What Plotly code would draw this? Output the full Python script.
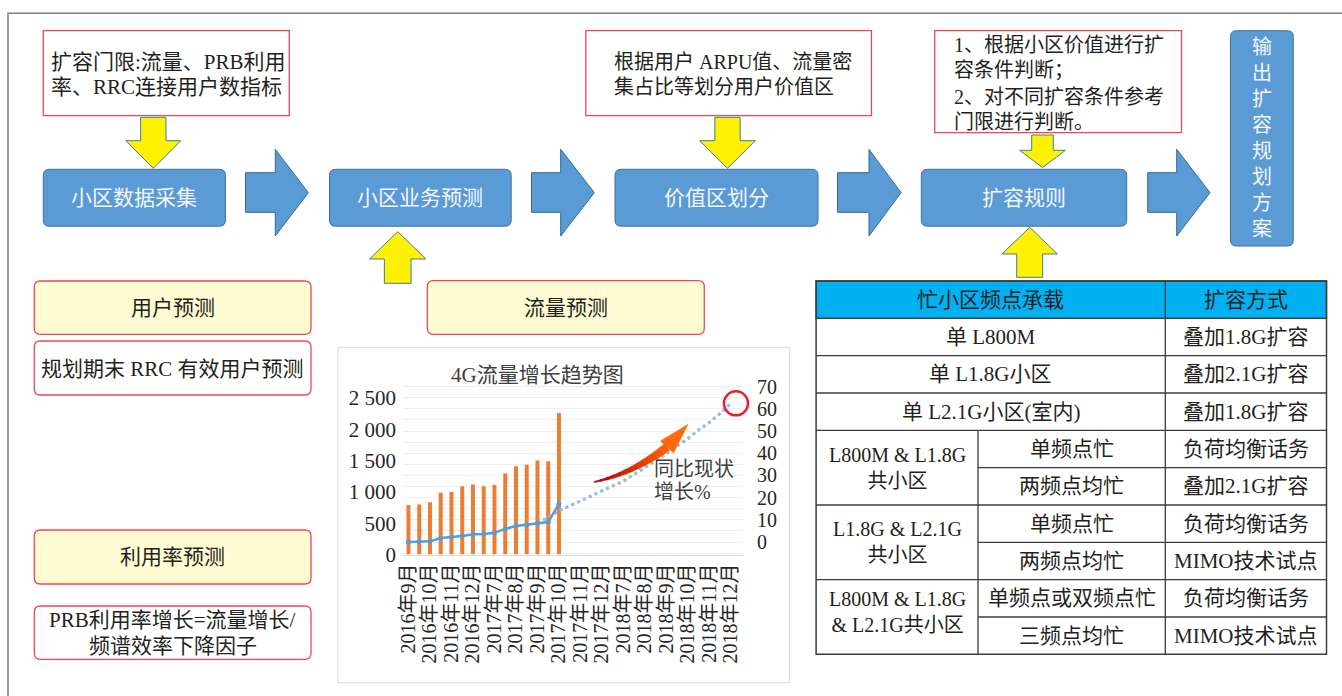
import plotly.graph_objects as go

W, H = 1342, 696
SERIF = "Liberation Serif, Noto Sans CJK SC, serif"
INK = "#231F20"

# ---- chart data: 4G traffic trend ----
tick_labels = ["2016年9月", "2016年10月", "2016年11月", "2016年12月",
               "2017年7月", "2017年8月", "2017年9月", "2017年10月",
               "2017年11月", "2017年12月", "2018年7月", "2018年8月",
               "2018年9月", "2018年10月", "2018年11月", "2018年12月"]
traffic = [790, 800, 835, 985, 1000, 1090, 1120, 1090, 1110,
           1295, 1410, 1435, 1500, 1490, 2260]
growth_actual = [0, 0.2, 0.3, 1.8, 2.1, 2.7, 3.5, 3.6, 4.2,
                 5.9, 7.2, 7.7, 8.4, 9.0, 17.2]
forecast_start = 12
growth_forecast = [8.4, 11.2, 14.0, 16.3, 18.6, 20.9, 23.1, 25.3, 27.4,
                   30.5, 33.4, 36.4, 39.8, 43.3, 46.6, 50.5, 53.9, 58.0, 62.5]
left_ticks = [0, 500, 1000, 1500, 2000, 2500]
left_tick_text = ["0", "500", "1 000", "1 500", "2 000", "2 500"]
right_ticks = [0, 10, 20, 30, 40, 50, 60, 70]

# ---- table content ----
table_header = ["忙小区频点承载", "扩容方式"]
single_rows = [("单 L800M", "叠加1.8G扩容"),
               ("单 L1.8G小区", "叠加2.1G扩容"),
               ("单 L2.1G小区(室内)", "叠加1.8G扩容")]
group_rows = [
    ("L800M & L1.8G<br>共小区", [("单频点忙", "负荷均衡话务"), ("两频点均忙", "叠加2.1G扩容")]),
    ("L1.8G & L2.1G<br>共小区", [("单频点忙", "负荷均衡话务"), ("两频点均忙", "MIMO技术试点")]),
    ("L800M & L1.8G<br>& L2.1G共小区", [("单频点或双频点忙", "负荷均衡话务"), ("三频点均忙", "MIMO技术试点")]),
]


def X(x):
    return x / W


def Y(y):
    return 1 - y / H


def P(x, y):
    return f"{X(x):.5f},{Y(y):.5f}"


def poly(points):
    return "M" + " L".join(P(x, y) for x, y in points) + " Z"


def rrect(x0, y0, x1, y1, r):
    return " ".join([
        f"M{P(x0 + r, y0)}", f"L{P(x1 - r, y0)}", f"Q{P(x1, y0)} {P(x1, y0 + r)}",
        f"L{P(x1, y1 - r)}", f"Q{P(x1, y1)} {P(x1 - r, y1)}",
        f"L{P(x0 + r, y1)}", f"Q{P(x0, y1)} {P(x0, y1 - r)}",
        f"L{P(x0, y0 + r)}", f"Q{P(x0, y0)} {P(x0 + r, y0)}", "Z"])


shapes = []
annotations = []


def add_path(path, fill, line_color, width=1.0, layer="above"):
    shapes.append(dict(type="path", xref="paper", yref="paper", path=path,
                       fillcolor=fill, line=dict(color=line_color, width=width),
                       layer=layer))


def add_rect(x0, y0, x1, y1, fill, line_color, width=1.0, layer="above"):
    shapes.append(dict(type="rect", xref="paper", yref="paper",
                       x0=X(x0), x1=X(x1), y0=Y(y1), y1=Y(y0),
                       fillcolor=fill, line=dict(color=line_color, width=width),
                       layer=layer))


def add_line(x0, y0, x1, y1, color, width=1.0):
    shapes.append(dict(type="line", xref="paper", yref="paper",
                       x0=X(x0), x1=X(x1), y0=Y(y0), y1=Y(y1),
                       line=dict(color=color, width=width)))


def add_text(x, y, s, size=21, color=INK, xanchor="center"):
    annotations.append(dict(xref="paper", yref="paper", x=X(x), y=Y(y), text=s,
                            showarrow=False, xanchor=xanchor, yanchor="middle",
                            font=dict(family=SERIF, size=size, color=color)))


RED = "#EA4A55"
YELLOW = "#FFF200"
YELLOW_EDGE = "#3B7EA1"
BLUE = "#5B9BD5"
BLUE_EDGE = "#41719C"
PALE = "#FFFBD2"

# outer frame (open on the right and bottom)
shapes.append(dict(type="path", xref="paper", yref="paper",
                   path=f"M{P(8, 700)} L{P(8, 13.3)} L{P(1345, 13.3)}",
                   line=dict(color="#808080", width=1.5)))

# ---- top note boxes ----
add_rect(43.3, 30.7, 289.3, 115.7, "white", RED, 1.3)
add_text(49, 61.7, "扩容门限:流量、PRB利用", 21, xanchor="left")
add_text(49, 86.7, "率、RRC连接用户数指标", 21, xanchor="left")

add_rect(585.8, 30.7, 871.5, 115.7, "white", RED, 1.3)
add_text(611.6, 61.7, "根据用户 ARPU值、流量密", 20, xanchor="left")
add_text(611.6, 86.7, "集占比等划分用户价值区", 20, xanchor="left")

add_rect(934.7, 30.7, 1181.5, 132.7, "white", RED, 1.3)
for yy, s in zip([45, 70, 96.7, 121.7],
                 ["1、根据小区价值进行扩", "容条件判断；", "2、对不同扩容条件参考", "门限进行判断。"]):
    add_text(951.7, yy, s, 20, xanchor="left")


# ---- yellow block arrows ----
def down_arrow(cx, top, head, tip, sw, hw):
    pts = [(cx - sw / 2, top), (cx + sw / 2, top), (cx + sw / 2, head), (cx + hw / 2, head),
           (cx, tip), (cx - hw / 2, head), (cx - sw / 2, head)]
    add_path(poly(pts), YELLOW, YELLOW_EDGE, 1.0)


def up_arrow(cx, tip, base, bottom, sw, hw):
    pts = [(cx, tip), (cx + hw / 2, base), (cx + sw / 2, base), (cx + sw / 2, bottom),
           (cx - sw / 2, bottom), (cx - sw / 2, base), (cx - hw / 2, base)]
    add_path(poly(pts), YELLOW, YELLOW_EDGE, 1.0)


down_arrow(153.3, 117.3, 140.7, 168.3, 25.4, 55)
down_arrow(727.5, 117.3, 140.7, 168.3, 25.3, 56)
down_arrow(1042.5, 135, 150.3, 167.5, 21.6, 45.7)
up_arrow(397.7, 231.7, 259, 283.3, 26.7, 56.4)
up_arrow(1029.7, 227.3, 254, 277.3, 26, 55.4)


# ---- process flow ----
def right_arrow(x0, xm, xt):
    pts = [(x0, 172.7), (xm, 172.7), (xm, 149.3), (xt, 192.7),
           (xm, 236), (xm, 212.3), (x0, 212.3)]
    add_path(poly(pts), BLUE, "#2F6C96", 1.0)


flow = [((43.3, 225.4), "小区数据采集"), ((329.5, 511.2), "小区业务预测"),
        ((615, 818), "价值区划分"), ((921.3, 1126.7), "扩容规则")]
for (x0, x1), label in flow:
    add_path(rrect(x0, 169.3, x1, 226.2, 6), BLUE, BLUE_EDGE, 1.0)
    add_text((x0 + x1) / 2, 198.5, label, 21, "#F4F7FB")

for x0, xm, xt in [(245.5, 275.3, 308.3), (531.5, 560.7, 594.3),
                   (837.5, 869, 901), (1147.7, 1176.7, 1210)]:
    right_arrow(x0, xm, xt)

add_path(rrect(1230.5, 30.7, 1293.3, 246, 6), BLUE, BLUE_EDGE, 1.0)
add_text(1262, 138.3, "<br>".join("输出扩容规划方案"), 20, "#F4F7FB")

# ---- forecasting boxes ----
add_path(rrect(34.3, 281, 311, 334.3, 6), PALE, RED, 1.3)
add_text(172.6, 308, "用户预测", 21)
add_path(rrect(34.3, 341, 311, 395, 6), "white", RED, 1.3)
add_text(172.6, 368.5, "规划期末 RRC 有效用户预测", 21)
add_path(rrect(34.3, 530, 311, 584, 6), PALE, RED, 1.3)
add_text(172.6, 557, "利用率预测", 21)
add_path(rrect(34.3, 606, 311, 659.3, 6), "white", RED, 1.3)
add_text(172.6, 620, "PRB利用率增长=流量增长/", 21)
add_text(172.6, 646, "频谱效率下降因子", 21)
add_path(rrect(427.3, 280.7, 704.3, 334.3, 6), PALE, RED, 1.3)
add_text(565.8, 307.5, "流量预测", 21)

# ---- expansion rule table ----
TX0, TX1, TXM, TXS = 816.1, 1326.5, 1165.3, 978
rows_y = [281, 318.3, 355.7, 393, 430.3, 467.7, 505, 542.3, 579.7, 617, 654.3]
add_rect(TX0, rows_y[0], TX1, rows_y[1], "#00B0F0", "#3C3C3C", 1.3)
TL = "#3C3C3C"
for yy in [rows_y[1], rows_y[2], rows_y[3], rows_y[4], rows_y[6], rows_y[8]]:
    add_line(TX0, yy, TX1, yy, TL, 1.3)
for yy in [rows_y[5], rows_y[7], rows_y[9]]:
    add_line(TXS, yy, TX1, yy, TL, 1.3)
add_line(TXM, rows_y[0], TXM, rows_y[-1], TL, 1.3)
add_line(TXS, rows_y[4], TXS, rows_y[-1], TL, 1.3)
add_rect(TX0, rows_y[0], TX1, rows_y[-1], "rgba(0,0,0,0)", TL, 1.5)

mid = lambda i: (rows_y[i] + rows_y[i + 1]) / 2
add_text((TX0 + TXM) / 2, mid(0), table_header[0], 21)
add_text((TXM + TX1) / 2, mid(0), table_header[1], 21)
for i, (a, b) in enumerate(single_rows):
    add_text((TX0 + TXM) / 2, mid(i + 1), a, 21)
    add_text((TXM + TX1) / 2, mid(i + 1), b, 21)
for g, (name, subs) in enumerate(group_rows):
    r0 = 4 + 2 * g
    gy = rows_y[r0 + 1] - (5 if g == 2 else 0)
    add_text((TX0 + TXS) / 2, gy, name, 20)
    for k, (a, b) in enumerate(subs):
        add_text((TXS + TXM) / 2, mid(r0 + k), a, 21)
        add_text((TXM + TX1) / 2, mid(r0 + k), b, 21)

# ---- chart frame and title ----
add_rect(338, 347.3, 789.3, 682.7, "white", "#D9D9D9", 1.0, layer="below")
add_text(537.5, 375, "4G流量增长趋势图", 21, "#404040")
add_text(652, 469, "同比现状", 20, "#404040", xanchor="left")
add_text(652, 492.5, "增长%", 20, "#404040", xanchor="left")

# curved growth arrow, shaded from dark red to orange
p0, p1, p2 = (594, 482), (632, 474), (667, 447)


def bez(t):
    return ((1 - t) ** 2 * p0[0] + 2 * (1 - t) * t * p1[0] + t * t * p2[0],
            (1 - t) ** 2 * p0[1] + 2 * (1 - t) * t * p1[1] + t * t * p2[1])


def normal(t):
    dx = 2 * (1 - t) * (p1[0] - p0[0]) + 2 * t * (p2[0] - p1[0])
    dy = 2 * (1 - t) * (p1[1] - p0[1]) + 2 * t * (p2[1] - p1[1])
    n = (dx * dx + dy * dy) ** 0.5
    return -dy / n, dx / n


def half_w(t):
    return 0.4 + 3.8 * t ** 0.9


nseg = 12
c0, c1 = (170, 0, 0), (255, 95, 5)
for i in range(nseg):
    ta, tb = i / nseg, min(1.0, (i + 1.25) / nseg)
    ts = [ta + (tb - ta) * k / 3 for k in range(4)]
    upper, lower = [], []
    for t in ts:
        (cx, cy), (nx, ny), w = bez(t), normal(t), half_w(t)
        upper.append((cx + nx * w, cy + ny * w))
        lower.append((cx - nx * w, cy - ny * w))
    f = i / (nseg - 1)
    col = "rgb(%d,%d,%d)" % tuple(round(c0[j] + (c1[j] - c0[j]) * f) for j in range(3))
    add_path(poly(upper + lower[::-1]), col, col, 0.5)

hd = (0.68, -0.73)
hn = (0.73, 0.68)
cx, cy = p2
head = [(cx + hn[0] * 9, cy + hn[1] * 9), (cx + hd[0] * 31, cy + hd[1] * 31),
        (cx - hn[0] * 9, cy - hn[1] * 9)]
add_path(poly(head), "#FF6A0A", "#FF6A0A", 0.5)

# ---- chart traces ----
bar_x = list(range(len(traffic)))
act_x = list(range(len(growth_actual)))
fc_x = list(range(forecast_start, forecast_start + len(growth_forecast)))

fig = go.Figure()
fig.add_trace(go.Scatter(x=[None], y=[None], xaxis="x", yaxis="y", showlegend=False))
fig.add_trace(go.Bar(x=bar_x, y=traffic, xaxis="x2", yaxis="y2", width=0.37,
                     marker=dict(color="#ED7D31", line=dict(width=0)), showlegend=False))
fig.add_trace(go.Scatter(x=fc_x, y=growth_forecast, xaxis="x3", yaxis="y3", mode="lines",
                         line=dict(color="#92BDE6", width=3.2, dash="dot"), showlegend=False))
fig.add_trace(go.Scatter(x=act_x, y=growth_actual, xaxis="x3", yaxis="y3", mode="lines+markers",
                         line=dict(color="#5B9BD5", width=2.5),
                         marker=dict(color="#5B9BD5", size=5), showlegend=False))

# x pixel scale shared by all three x axes
PX_L, PX_R = 403, 743
x_rng = [-0.51, 31.12]
px_per_unit = (PX_R - PX_L) / (x_rng[1] - x_rng[0])
x_dom = [X(PX_L), X(PX_R)]
# the overlay axes for the growth line reach further right so the marker ring is not clipped
PX_R3 = 785
x_rng3 = [x_rng[0], x_rng[0] + (PX_R3 - PX_L) / px_per_unit]

k_right = (542 - 386.7) / 70
r_lo = -(556 - 542) / k_right
r_hi = 70 + (386.7 - 384) / k_right
r_hi3 = 70 + (386.7 - 360) / k_right

shapes.append(dict(type="circle", xref="x3", yref="y3", xsizemode="pixel", ysizemode="pixel",
                   xanchor=fc_x[-1], yanchor=growth_forecast[-1],
                   x0=-7, x1=17, y0=-12, y1=12,
                   line=dict(color="#E8202A", width=2.5), fillcolor="rgba(0,0,0,0)"))

tickfont = dict(family=SERIF, size=20, color="#262626")

fig.update_layout(
    width=W, height=H,
    margin=dict(l=0, r=0, t=0, b=0),
    paper_bgcolor="white", plot_bgcolor="rgba(0,0,0,0)",
    showlegend=False, hovermode=False,
    xaxis=dict(domain=x_dom, range=x_rng, anchor="free", position=Y(554.5),
               tickmode="array", tickvals=list(range(0, 2 * len(tick_labels), 2)),
               ticktext=tick_labels, tickangle=-90, tickfont=tickfont,
               showgrid=False, zeroline=False, showline=True, linecolor="#D9D9D9",
               ticks="", automargin=False, fixedrange=True),
    yaxis=dict(domain=[Y(556), Y(384)], range=[r_lo, r_hi], side="right", anchor="x",
               tickmode="array", tickvals=right_ticks, tickfont=tickfont,
               showgrid=False, zeroline=False, ticks="", ticklabelstandoff=13,
               automargin=False, fixedrange=True,
               minor=dict(tickvals=list(range(-5, 75, 5)), showgrid=True,
                          gridcolor="#EFEFEF", gridwidth=1)),
    xaxis2=dict(domain=x_dom, range=x_rng, anchor="y2", visible=False, fixedrange=True),
    yaxis2=dict(domain=[Y(554.5), Y(398)], range=[0, 2500], anchor="x2", side="left",
                tickmode="array", tickvals=left_ticks, ticktext=left_tick_text,
                tickfont=dict(family=SERIF, size=21, color="#262626"),
                showgrid=False, zeroline=False, ticks="", ticklabelstandoff=6,
                automargin=False, fixedrange=True),
    xaxis3=dict(domain=[X(PX_L), X(PX_R3)], range=x_rng3, anchor="y3",
                visible=False, fixedrange=True),
    yaxis3=dict(domain=[Y(556), Y(360)], range=[r_lo, r_hi3], anchor="x3",
                visible=False, fixedrange=True),
    shapes=shapes,
    annotations=annotations,
)

fig.write_html("out.html")
